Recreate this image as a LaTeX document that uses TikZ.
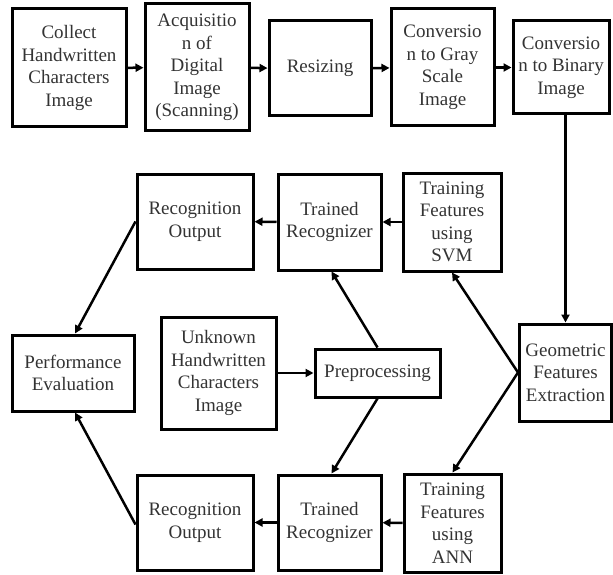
\documentclass[tikz,border=0pt]{standalone}
\usepackage{fontspec}
\setmainfont{Liberation Serif}
\usetikzlibrary{arrows.meta}
\begin{document}
\begin{tikzpicture}[x=1pt,y=-1pt,
  box/.style={draw=black,line width=3pt,align=center,inner sep=0pt,text=black!80,
    font=\fontsize{19}{22.5}\selectfont},
  conn/.style={line width=2.5pt,-{Triangle[length=8pt,width=8pt]}},
  plain/.style={line width=2.5pt}]
\useasboundingbox (0,0) rectangle (613,575);
\node[box,minimum width=114pt,minimum height=118pt] (collect) at (69,68) {Collect\\Handwritten\\Characters\\Image};
\node[box,minimum width=104pt,minimum height=127pt] (acq) at (197,67.5) {Acquisitio\\n of\\Digital\\Image\\(Scanning)};
\node[box,minimum width=102pt,minimum height=95pt] (resize) at (320,68.5) {Resizing};
\node[box,minimum width=103pt,minimum height=117pt] (gray) at (442.5,67.5) {Conversio\\n to Gray\\Scale\\Image};
\node[box,minimum width=96pt,minimum height=93pt] (binary) at (561,67.5) {Conversio\\n to Binary\\Image};
\node[box,minimum width=92pt,minimum height=97pt] (geo) at (565.5,372.5) {Geometric\\Features\\Extraction};
\node[box,minimum width=98pt,minimum height=98pt] (svm) at (452,222) {Training\\Features\\using\\SVM};
\node[box,minimum width=103pt,minimum height=96pt] (trec1) at (329.5,222) {Trained\\Recognizer};
\node[box,minimum width=116pt,minimum height=95pt] (rout1) at (195,221.5) {Recognition\\Output};
\node[box,minimum width=122pt,minimum height=76pt] (perf) at (73,373) {Performance\\Evaluation};
\node[box,minimum width=115pt,minimum height=112pt] (unknown) at (218.5,373) {Unknown\\Handwritten\\Characters\\Image};
\node[box,minimum width=125pt,minimum height=48pt] (prep) at (377.5,373) {Preprocessing};
\node[box,minimum width=116pt,minimum height=95pt] (rout2) at (195,522.5) {Recognition\\Output};
\node[box,minimum width=103pt,minimum height=95pt] (trec2) at (329.5,522.5) {Trained\\Recognizer};
\node[box,minimum width=97pt,minimum height=98pt] (ann) at (452.5,523) {Training\\Features\\using\\ANN};
\draw[conn] (collect) -- (acq);
\draw[conn] (acq) -- (resize);
\draw[conn] (resize) -- (gray);
\draw[conn] (gray) -- (binary);
\draw[conn] (binary.south -| geo.north) -- (geo.north);
\draw[conn] (geo.west) -- (svm.south);
\draw[conn] (geo.west) -- (ann.north);
\draw[conn] (svm) -- (trec1);
\draw[conn] (trec1) -- (rout1);
\draw[conn] (ann) -- (trec2);
\draw[conn] (trec2) -- (rout2);
\draw[conn] (unknown) -- (prep);
\draw[conn] (prep.north) -- ([xshift=2pt]trec1.south);
\draw[conn] (prep.south) -- ([xshift=2pt]trec2.north);
\draw[conn] (rout1.west) -- ([xshift=2pt]perf.north);
\draw[conn] ([yshift=-2pt]rout2.west) -- ([xshift=2pt]perf.south);
\end{tikzpicture}
\end{document}
